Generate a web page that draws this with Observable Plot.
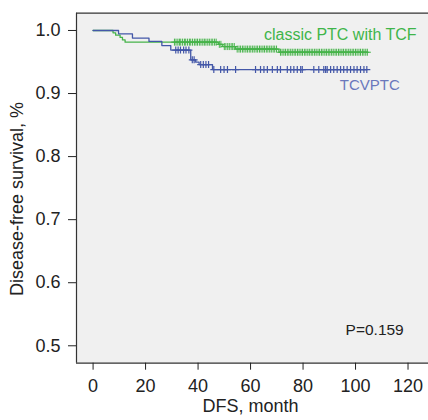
<!DOCTYPE html>
<html>
<head>
<meta charset="utf-8">
<script src="https://cdn.jsdelivr.net/npm/d3@7"></script>
<script src="https://cdn.jsdelivr.net/npm/@observablehq/plot@0.6"></script>
<style>
  html, body { margin: 0; padding: 0; background: #ffffff; }
  #chart svg { display: block; }
</style>
</head>
<body>
<div id="chart"></div>
<script>
// ---- Data ----
const xTicks = [0, 20, 40, 60, 80, 100, 120];
const yTicks = [0.5, 0.6, 0.7, 0.8, 0.9, 1.0];

// classic PTC with TCF (green): event times and survival after each event
const greenEventTimes = [7.6, 8.6, 10.3, 11.2, 12.2, 47.7, 49.4, 54.3, 70.8];
const greenSurvival   = [0.9963, 0.9926, 0.989, 0.985, 0.9815, 0.978, 0.9745, 0.9705, 0.9655];
const greenEnd = 104.5;
const greenCensor = [31.0, 31.6, 32.3, 32.9, 33.4, 34.1, 34.8, 35.3, 36.0, 36.7, 37.2, 37.9, 38.6, 39.2,
  39.8, 40.5, 41.1, 41.8, 42.4, 43.0, 43.7, 44.3, 45.0, 45.6, 46.3, 46.9, 48.1, 48.7, 50.0, 50.6, 51.3,
  51.9, 52.6, 53.2, 53.8, 54.9, 55.6, 56.2, 56.9, 57.5, 58.2, 58.8, 59.5, 60.1, 60.8, 61.4, 62.1, 62.7,
  63.4, 64.0, 64.7, 65.3, 66.0, 66.6, 67.3, 67.9, 68.6, 69.2, 69.9, 71.4, 72.0, 72.7, 73.3, 74.0, 74.6,
  75.3, 75.9, 76.6, 77.2, 77.9, 78.5, 79.2, 79.8, 80.5, 81.1, 81.8, 82.4, 83.1, 83.7, 84.4, 85.0, 85.7,
  86.3, 87.0, 87.6, 88.3, 88.9, 89.6, 90.2, 90.9, 91.5, 92.2, 92.8, 93.5, 94.1, 94.8, 95.4, 96.1, 96.7,
  97.4, 98.0, 98.7, 99.3, 100.0, 100.6, 101.3, 101.9, 102.6, 103.2, 103.9, 104.5];

// TCVPTC (blue)
const blueEventTimes = [9.7, 15.0, 21.3, 26.2, 29.6, 37.2, 39.1, 40.4, 45.5];
const blueSurvival   = [0.9947, 0.988, 0.9826, 0.976, 0.969, 0.9535, 0.9497, 0.946, 0.938];
const blueEnd = 104.3;
const blueCensor = [31.5, 32.4, 33.3, 34.5, 35.4, 36.5, 37.8, 38.5, 41.0, 42.0, 43.0, 44.0, 46.0, 48.6,
  49.9, 51.2, 54.3, 61.9, 63.8, 65.1, 66.4, 68.3, 70.2, 71.4, 74.0, 75.3, 76.5, 77.8, 79.1, 79.7, 84.1,
  86.0, 87.9, 88.6, 89.2, 90.5, 91.7, 93.0, 94.3, 95.5, 96.8, 98.1, 99.4, 100.6, 101.9, 103.2, 104.3];

const seriesNames = ["classic PTC with TCF", "TCVPTC"];
const pValueLabel = "P=0.159";

// ---- Build tables ----
function stepPoints(times, surv, end) {
  const pts = [{t: 0, s: 1}];
  times.forEach((t, i) => pts.push({t, s: surv[i]}));
  pts.push({t: end, s: surv[surv.length - 1]});
  return pts;
}
function survAt(times, surv, t) {
  let s = 1;
  for (let i = 0; i < times.length; i++) if (times[i] <= t) s = surv[i];
  return s;
}
const greenLine = stepPoints(greenEventTimes, greenSurvival, greenEnd);
const blueLine = stepPoints(blueEventTimes, blueSurvival, blueEnd);
const greenMarks = greenCensor.map(t => ({t, s: survAt(greenEventTimes, greenSurvival, t)}));
const blueMarks = blueCensor.map(t => ({t, s: survAt(blueEventTimes, blueSurvival, t)}));

const green = "#46b34a";
const blue = "#4357a8";
const xDom = [-6.32, 127.8];
const yDom = [0.4724, 1.0274];
const font = "'Liberation Sans', Arial, Helvetica, sans-serif";

const chart = Plot.plot({
  width: 428,
  height: 420,
  marginLeft: 76,
  marginRight: 0,
  marginTop: 12.7,
  marginBottom: 57.3,
  style: {fontFamily: font, fontSize: "18px", color: "#222", background: "#ffffff", overflow: "visible"},
  x: {domain: xDom, ticks: xTicks, tickSize: 7, tickPadding: 9, label: null},
  y: {domain: yDom, ticks: yTicks, tickSize: 8, tickPadding: 8, tickFormat: d3.format(".1f"), label: null},
  marks: [
    Plot.frame({fill: "#f0f0f0", stroke: null}),
    Plot.ruleY([yDom[0]], {stroke: "#333", strokeWidth: 1.2}),
    Plot.ruleY([yDom[1]], {stroke: "#333", strokeWidth: 1.2}),
    Plot.ruleX([xDom[0]], {stroke: "#333", strokeWidth: 1.2}),
    Plot.axisX({ticks: xTicks, tickSize: 7, tickPadding: 9, fontSize: 18, stroke: "#222", fill: "#222", label: null}),
    Plot.axisY({ticks: yTicks, tickSize: 8, tickPadding: 8, tickFormat: d3.format(".1f"), fontSize: 18, stroke: "#222", fill: "#222", label: null}),
    Plot.line(greenLine, {x: "t", y: "s", curve: "step-after", stroke: green, strokeWidth: 1.3}),
    Plot.line(blueLine, {x: "t", y: "s", curve: "step-after", stroke: blue, strokeWidth: 1.3}),
    Plot.dot(greenMarks, {x: "t", y: "s", symbol: "plus", r: 2.4, stroke: green, strokeWidth: 1}),
    Plot.dot(blueMarks, {x: "t", y: "s", symbol: "plus", r: 2.4, stroke: blue, strokeWidth: 1.2}),
    Plot.text([seriesNames[0]], {x: 65.1, y: 0.9938, text: d => d, textAnchor: "start", fill: "#3fb54a", fontSize: 16}),
    Plot.text([seriesNames[1]], {x: 94.0, y: 0.9136, text: d => d, textAnchor: "start", fill: "#6a78bc", fontSize: 15}),
    Plot.text([pValueLabel], {x: 96.2, y: 0.5243, text: d => d, textAnchor: "start", fill: "#222", fontSize: 15.5}),
    Plot.text(["DFS, month"], {frameAnchor: "bottom", text: d => d, textAnchor: "middle", dy: 48.5, dx: -2, fill: "#222", fontSize: 18}),
    Plot.text(["Disease-free survival, %"], {frameAnchor: "left", text: d => d, textAnchor: "middle", rotate: -90, dx: -58.8, dy: 10.8, fill: "#222", fontSize: 18})
  ]
});
document.getElementById("chart").appendChild(chart);
</script>
</body>
</html>
